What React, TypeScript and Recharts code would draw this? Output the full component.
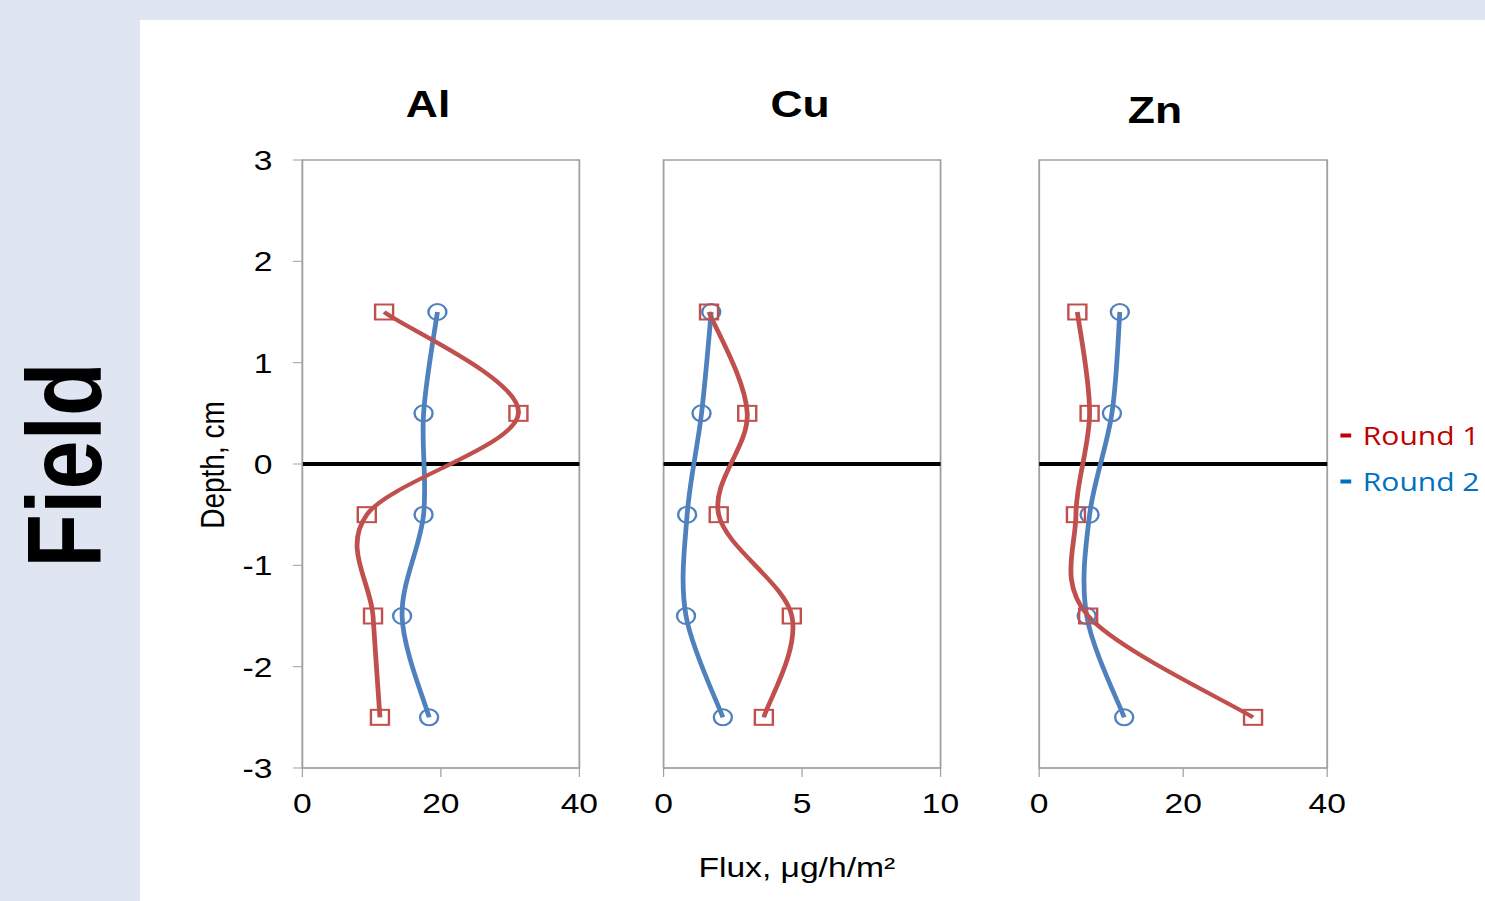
import { LineChart, Line, XAxis, YAxis, ReferenceLine, ReferenceArea } from 'recharts'

const depths = [1.5, 0.5, -0.5, -1.5, -2.5]
const depthTicks = [-3, -2, -1, 0, 1, 2, 3]

const alRound1 = [11.8, 31.2, 9.3, 10.2, 11.2]
const alRound2 = [19.5, 17.5, 17.5, 14.4, 18.3]
const cuRound1 = [1.64, 3.02, 1.99, 4.63, 3.62]
const cuRound2 = [1.72, 1.37, 0.85, 0.81, 2.14]
const znRound1 = [5.3, 7.0, 5.1, 6.8, 29.7]
const znRound2 = [11.2, 10.1, 7.0, 6.6, 11.8]

const alTicks = [0, 20, 40]
const cuTicks = [0, 5, 10]
const znTicks = [0, 20, 40]

const RED = '#c0504d'
const BLUE = '#4f81bd'
const GRID = '#a0a0a0'
const FONT = '"Liberation Sans", Arial, sans-serif'

// the original picture is stretched sideways, so the whole page is drawn narrower and scaled
const SX = 1.2

// Excel-like smoothed line (uniform Catmull-Rom as bezier segments)
const smooth = (context: any) => {
  let pts: number[][] = []
  return {
    areaStart() {},
    areaEnd() {},
    lineStart() {
      pts = []
    },
    lineEnd() {
      if (!pts.length) return
      context.moveTo(pts[0][0], pts[0][1])
      for (let i = 0; i < pts.length - 1; i++) {
        const p0 = pts[i - 1] || pts[i]
        const p1 = pts[i]
        const p2 = pts[i + 1]
        const p3 = pts[i + 2] || p2
        context.bezierCurveTo(
          p1[0] + (p2[0] - p0[0]) / 6,
          p1[1] + (p2[1] - p0[1]) / 6,
          p2[0] - (p3[0] - p1[0]) / 6,
          p2[1] - (p3[1] - p1[1]) / 6,
          p2[0],
          p2[1]
        )
      }
    },
    point(x: number, y: number) {
      pts.push([x, y])
    },
  }
}

const squareDot = (p: any) => (
  <rect key={`s-${p.index}`} x={p.cx - 7.5} y={p.cy - 7.5} width={15} height={15} fill="none" stroke={RED} strokeWidth={2} />
)
const circleDot = (p: any) => (
  <ellipse key={`c-${p.index}`} cx={p.cx} cy={p.cy} rx={7.5} ry={8} fill="none" stroke={BLUE} strokeWidth={2} />
)

const panels = [
  { title: 'Al', r1: alRound1, r2: alRound2, max: 40, ticks: alTicks, left: 251.7, width: 230.8, showY: true, titleX: 356.7, titleY: 123 },
  { title: 'Cu', r1: cuRound1, r2: cuRound2, max: 10, ticks: cuTicks, left: 553.3, width: 230.8, showY: false, titleX: 666.7, titleY: 123 },
  { title: 'Zn', r1: znRound1, r2: znRound2, max: 40, ticks: znTicks, left: 865.8, width: 240, showY: false, titleX: 962.5, titleY: 129 },
]

function Panel({ p }: { p: (typeof panels)[number] }) {
  const data = depths.map((d, i) => ({ depth: d, r1: p.r1[i], r2: p.r2[i] }))
  const w = 80 + p.width + 20
  return (
    <div style={{ position: 'absolute', left: p.left - 80, top: 140 }}>
      <LineChart layout="vertical" width={w} height={700} data={data} margin={{ top: 20, right: 20, bottom: 22, left: 0 }}>
        <XAxis
          type="number"
          domain={[0, p.max]}
          ticks={p.ticks}
          interval={0}
          height={50}
          tickSize={9}
          tickMargin={16}
          stroke={GRID}
          tick={{ fill: '#000', fontSize: 28, fontFamily: FONT }}
        />
        <YAxis
          type="number"
          dataKey="depth"
          domain={[-3, 3]}
          ticks={depthTicks}
          reversed
          interval={0}
          width={80}
          tickSize={8}
          tickMargin={17}
          stroke={GRID}
          axisLine={p.showY}
          tickLine={p.showY}
          tick={p.showY ? { fill: '#000', fontSize: 28, fontFamily: FONT } : false}
        />
        <ReferenceArea x1={0} x2={p.max} y1={-3} y2={3} fill="none" stroke={GRID} strokeWidth={1.5} ifOverflow="visible" />
        <ReferenceLine y={0} stroke="#000" strokeWidth={4} ifOverflow="visible" />
        <Line dataKey="r2" type={smooth as any} stroke={BLUE} strokeWidth={4} dot={circleDot} activeDot={false} isAnimationActive={false} />
        <Line dataKey="r1" type={smooth as any} stroke={RED} strokeWidth={4} dot={squareDot} activeDot={false} isAnimationActive={false} />
      </LineChart>
      <div
        style={{
          position: 'absolute',
          left: p.titleX - (p.left - 80),
          top: p.titleY - 140,
          transform: 'translate(-50%, -100%)',
          fontFamily: FONT,
          fontWeight: 700,
          fontSize: 37,
          lineHeight: 1,
          whiteSpace: 'nowrap',
        }}
      >
        {p.title}
      </div>
    </div>
  )
}

export default function App() {
  return (
    <div style={{ position: 'absolute', left: 0, top: 0, width: 1485, height: 901, background: '#dfe6f2', overflow: 'hidden' }}>
      <div style={{ position: 'absolute', left: 140, top: 20, width: 1345, height: 881, background: '#fff' }} />
      <div style={{ position: 'absolute', left: 0, top: 0, width: 1485 / SX, height: 901, transform: `scaleX(${SX})`, transformOrigin: '0 0' }}>
        <div
          style={{
            position: 'absolute',
            left: 54,
            top: 465,
            transform: 'translate(-50%, -50%) rotate(-90deg)',
            fontFamily: FONT,
            fontWeight: 700,
            fontSize: 88,
            lineHeight: 1,
            whiteSpace: 'nowrap',
          }}
        >
          Field
        </div>
        <div
          style={{
            position: 'absolute',
            left: 177.5,
            top: 465,
            transform: 'translate(-50%, -50%) rotate(-90deg)',
            fontFamily: FONT,
            fontSize: 28,
            lineHeight: 1,
            whiteSpace: 'nowrap',
          }}
        >
          Depth, cm
        </div>
        {panels.map((p) => (
          <Panel key={p.title} p={p} />
        ))}
        <div
          style={{
            position: 'absolute',
            left: 664,
            top: 868,
            transform: 'translate(-50%, -50%)',
            fontFamily: FONT,
            fontSize: 28,
            lineHeight: 1,
            whiteSpace: 'nowrap',
          }}
        >
          Flux, μg/h/m²
        </div>
        {[
          { label: 'Round 1', color: '#c00000', y: 435 },
          { label: 'Round 2', color: '#0070c0', y: 481 },
        ].map((l) => (
          <div key={l.label} style={{ position: 'absolute', left: 1116.7, top: l.y, transform: 'translateY(-50%)', display: 'flex', alignItems: 'center' }}>
            <div style={{ width: 9, height: 4, background: l.color, marginRight: 10 }} />
            <span style={{ fontFamily: '"Open Sans", sans-serif', fontSize: 25, color: l.color, lineHeight: 1, whiteSpace: 'nowrap' }}>{l.label}</span>
          </div>
        ))}
      </div>
    </div>
  )
}
